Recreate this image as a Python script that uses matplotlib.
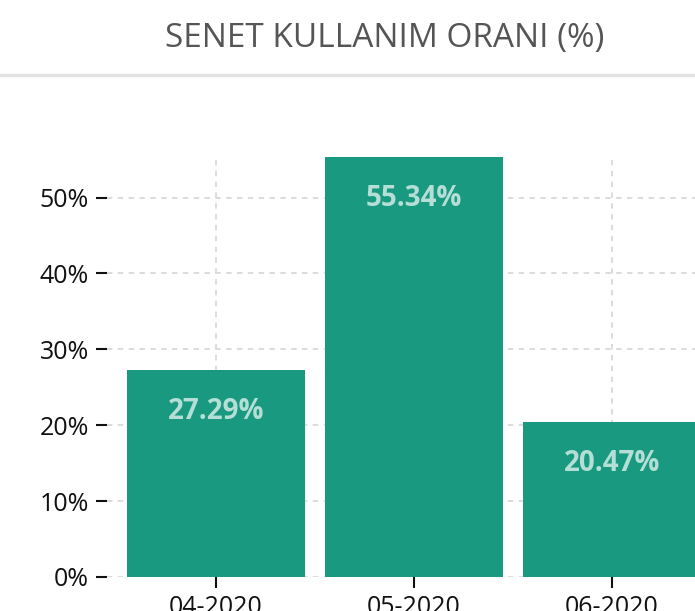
import matplotlib.pyplot as plt
from matplotlib.ticker import FuncFormatter
from matplotlib.lines import Line2D

months = ['04-2020', '05-2020', '06-2020']
usage = [27.29, 55.34, 20.47]
y_ticks = [0, 10, 20, 30, 40, 50]

bar_color = '#189980'
label_color = '#b4ded6'

plt.rcParams['font.family'] = ['Open Sans', 'DejaVu Sans']

fig = plt.figure(figsize=(6.95, 6.11), dpi=100)
ax = fig.add_axes([107 / 695, 34 / 611, 614 / 695, 420 / 611])

x = list(range(len(months)))
bars = ax.bar(x, usage, width=0.9, color=bar_color, zorder=3)

for xi, v in zip(x, usage):
    ax.annotate(f'{v:.2f}%', xy=(xi, v), xytext=(0, -30), textcoords='offset points',
                ha='center', va='center', fontsize=20, fontweight='bold',
                color=label_color, zorder=4)

ax.set_xlim(-0.55, 2.55)
ax.set_ylim(0, 55.34)
ax.set_xticks(x)
ax.set_xticklabels(months)
ax.set_yticks(y_ticks)
ax.yaxis.set_major_formatter(FuncFormatter(lambda v, p: f'{v:.0f}%'))
ax.tick_params(axis='both', length=8, width=1.5, labelsize=18, colors='#111111', pad=5)

for s in ax.spines.values():
    s.set_visible(False)
ax.grid(True, color='#d9d9d9', linestyle=(0, (3, 3)), linewidth=1.3, zorder=0)
ax.set_axisbelow(True)

fig.text(385 / 695, 1 - 39 / 611, 'SENET KULLANIM ORANI (%)', ha='center', va='center',
         fontsize=24, color='#555555')
fig.add_artist(Line2D([0, 1], [1 - 75 / 611, 1 - 75 / 611], color='#e3e3e3', linewidth=2.5,
                      transform=fig.transFigure))

fig.savefig('out.png', dpi=100)
